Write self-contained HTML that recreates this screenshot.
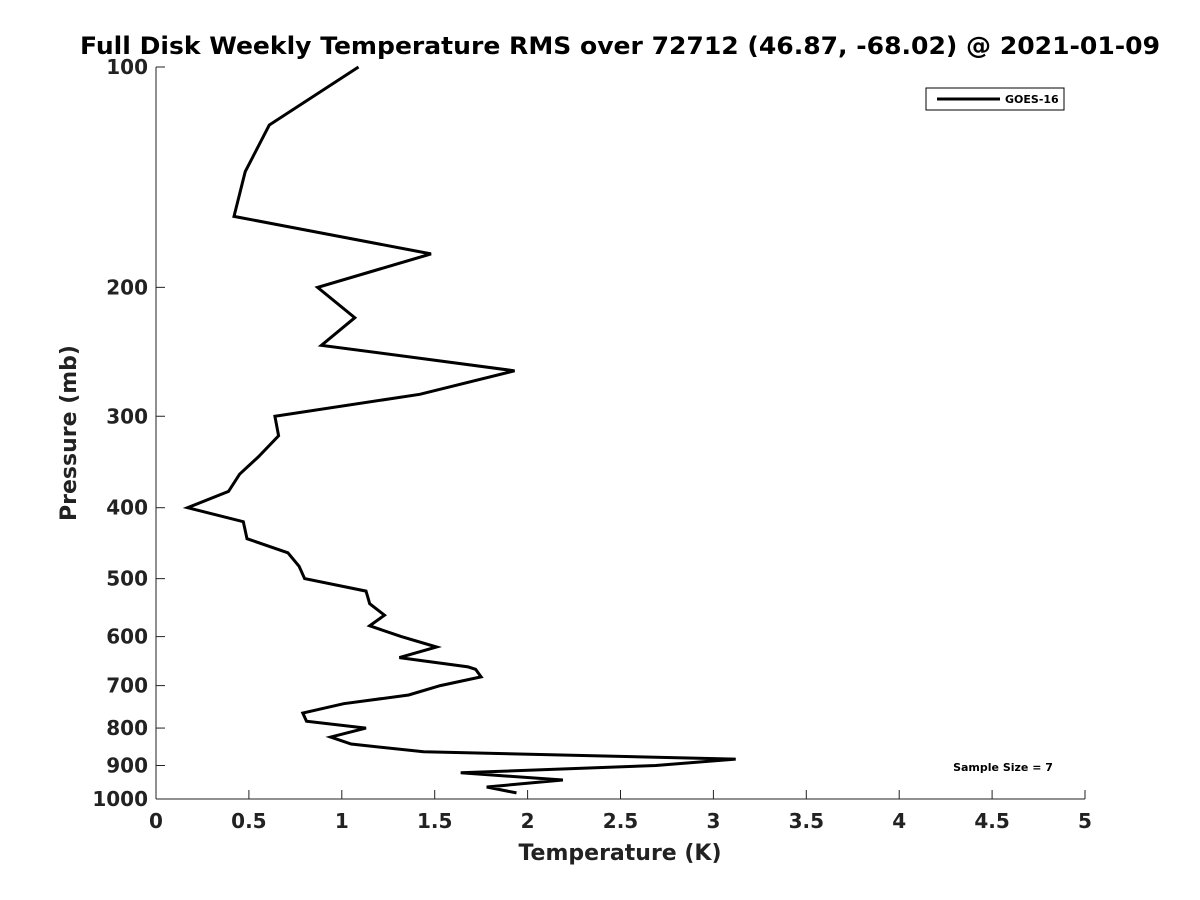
<!DOCTYPE html>
<html><head><meta charset="utf-8"><style>
html,body{margin:0;padding:0;background:#fff;}
svg{display:block;font-family:"DejaVu Sans","Liberation Sans",sans-serif;}
</style></head><body>
<svg id="chart" width="1200" height="900">
<rect width="1200" height="900" fill="#fff"/>
<text x="620" y="54" text-anchor="middle" font-size="24" font-weight="bold" fill="#000" textLength="1080" lengthAdjust="spacingAndGlyphs">Full Disk Weekly Temperature RMS over 72712 (46.87, -68.02) @ 2021-01-09</text>
<g id="axes"></g>
<path id="series" fill="none" stroke="#000" stroke-width="3" stroke-linejoin="miter"/>
<g>
<rect x="926" y="88" width="138" height="22" fill="#fff" stroke="#000" stroke-width="1"/>
<line x1="937" y1="99" x2="1000" y2="99" stroke="#000" stroke-width="3"/>
<text x="1005" y="103" font-size="11" font-weight="bold">GOES-16</text>
</g>
<text x="1003" y="771" text-anchor="middle" font-size="11" font-weight="bold">Sample Size = 7</text>
<text x="620" y="860" text-anchor="middle" font-size="22" font-weight="bold" fill="#222">Temperature (K)</text>
<text transform="translate(76,433) rotate(-90)" text-anchor="middle" font-size="22" font-weight="bold" fill="#222">Pressure (mb)</text>
</svg>
<script>
const temps=[1.09,0.61,0.48,0.42,1.48,0.87,1.07,0.89,1.93,1.42,0.64,0.66,0.55,0.45,0.39,0.17,0.47,0.49,0.71,0.77,0.80,1.13,1.15,1.23,1.15,1.32,1.51,1.31,1.68,1.72,1.75,1.53,1.36,1.01,0.79,0.81,1.13,0.94,1.05,1.44,3.12,2.69,1.64,2.19,1.78,1.94];
const pressures=[100,120,139,160,180,200,220,240,260,280,300,319,341,360,380,400,418,441,461,481,500,520,541,561,580,600,620,641,660,665,681,700,721,741,763,783,800,823,841,862,882,900,921,942,963,981];
const xTicks=[0,0.5,1,1.5,2,2.5,3,3.5,4,4.5,5];
const xTickLabels=["0","0.5","1","1.5","2","2.5","3","3.5","4","4.5","5"];
const yTicks=[100,200,300,400,500,600,700,800,900,1000];
const yTickLabels=["100","200","300","400","500","600","700","800","900","1000"];
const X0=156,X1=1085,Y0=67,Y1=799;
function xs(t){return X0+(t-0)/(5-0)*(X1-X0);}
function ys(p){return Y0+(Math.log10(p)-2)/(3-2)*(Y1-Y0);}
const NS="http://www.w3.org/2000/svg";
const axes=document.getElementById('axes');
function mk(tag,attrs){const e=document.createElementNS(NS,tag);for(const k in attrs)e.setAttribute(k,attrs[k]);return e;}
const yl=mk('line',{x1:X0,y1:Y0,x2:X0,y2:Y1,stroke:'#222','stroke-width':1});


axes.appendChild(yl);
const xl=mk('line',{x1:X0,y1:Y1,x2:X1,y2:Y1,stroke:'#222','stroke-width':1});


axes.appendChild(xl);
xTicks.forEach((t,i)=>{
 const x=xs(t);
 const tk=mk('line',{x1:x,y1:Y1,x2:x,y2:Y1-9,stroke:'#222','stroke-width':1});
 
 
 axes.appendChild(tk);
 const tx=mk('text',{x:x,y:Y1+29,'text-anchor':'middle','font-size':20,'font-weight':'bold',fill:'#222'});
 tx.textContent=xTickLabels[i];
 
 
 axes.appendChild(tx);
});
yTicks.forEach((p,i)=>{
 const y=ys(p);
 const tk=mk('line',{x1:X0,y1:y,x2:X0+9,y2:y,stroke:'#222','stroke-width':1});
 
 
 axes.appendChild(tk);
 const tx=mk('text',{x:X0-8,y:y+7,'text-anchor':'end','font-size':20,'font-weight':'bold',fill:'#222'});
 tx.textContent=yTickLabels[i];
 
 
 axes.appendChild(tx);
});
let d='';
temps.forEach((t,i)=>{d+=(i?'L':'M')+xs(t).toFixed(1)+','+ys(pressures[i]).toFixed(1);});
document.getElementById('series').setAttribute('d',d);
</script>
</body></html>
